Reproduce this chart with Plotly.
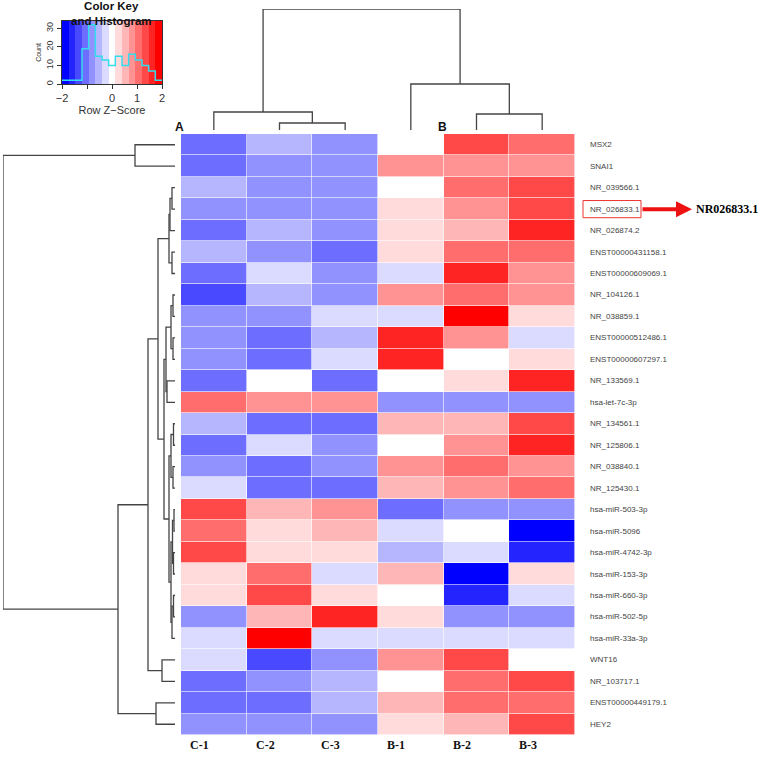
import numpy as np
import plotly.graph_objects as go

samples = ['C-1', 'C-2', 'C-3', 'B-1', 'B-2', 'B-3']
genes = ['MSX2', 'SNAI1', 'NR_039566.1', 'NR_026833.1', 'NR_026874.2',
         'ENST00000431158.1', 'ENST00000609069.1', 'NR_104126.1', 'NR_038859.1',
         'ENST00000512486.1', 'ENST00000607297.1', 'NR_133569.1', 'hsa-let-7c-3p',
         'NR_134561.1', 'NR_125806.1', 'NR_038840.1', 'NR_125430.1',
         'hsa-miR-503-3p', 'hsa-miR-5096', 'hsa-miR-4742-3p', 'hsa-miR-153-3p',
         'hsa-miR-660-3p', 'hsa-miR-502-5p', 'hsa-miR-33a-3p', 'WNT16',
         'NR_103717.1', 'ENST00000449179.1', 'HEY2']

# colour bin of each cell (-7 = deep blue ... 0 = white ... 7 = deep red)
levels = [
    [-4, -2, -3, 0, 5, 4],
    [-4, -3, -3, 3, 3, 3],
    [-2, -3, -3, 0, 4, 5],
    [-3, -3, -3, 1, 3, 5],
    [-4, -2, -3, 1, 2, 6],
    [-2, -3, -4, 1, 4, 4],
    [-4, -1, -3, -1, 6, 3],
    [-5, -2, -3, 3, 4, 3],
    [-3, -3, -1, -1, 7, 1],
    [-3, -4, -2, 6, 3, -1],
    [-3, -4, -1, 6, 0, 1],
    [-4, 0, -4, 0, 1, 6],
    [4, 3, 3, -3, -3, -3],
    [-2, -4, -4, 2, 2, 5],
    [-4, -1, -3, 0, 3, 6],
    [-3, -4, -3, 3, 4, 3],
    [-1, -4, -4, 2, 3, 4],
    [5, 2, 3, -4, -3, -3],
    [4, 1, 2, -1, 0, -7],
    [5, 1, 1, -2, -1, -6],
    [1, 4, -1, 2, -7, 1],
    [1, 5, 1, 0, -6, -1],
    [-3, 2, 6, 1, -3, -3],
    [-1, 7, -1, -1, -1, -1],
    [-1, -5, -3, 3, 5, 0],
    [-4, -3, -2, 0, 4, 5],
    [-4, -4, -2, 2, 4, 4],
    [-3, -3, -3, 1, 2, 5],
]

# histogram counts in the colour key (15 bins from -2 to 2)
hist_counts = [2, 2, 2, 19, 32, 15, 13, 10, 15, 10, 16, 13, 10, 7, 2]

# dendrogram merges: [left, right, height]; ids >= n are earlier merges
col_merges = [[1, 2, 7], [0, 6, 18], [4, 5, 16], [3, 8, 46], [7, 9, 121]]
row_merges = [
    [0, 1, 40], [2, 3, 3], [29, 4, 5], [5, 6, 3], [30, 31, 6],
    [7, 8, 2], [9, 10, 2], [33, 34, 4], [11, 12, 8], [35, 36, 9],
    [13, 14, 1.5], [15, 16, 2], [38, 39, 4], [17, 18, 1], [19, 20, 1.5],
    [41, 42, 2.5], [21, 22, 1.5], [44, 23, 3], [43, 45, 4], [40, 46, 6],
    [37, 47, 11], [32, 48, 17], [24, 25, 13], [49, 50, 27], [26, 27, 19],
    [51, 52, 57], [28, 53, 172],
]
highlight = 'NR_026833.1'
highlight_label = 'NR026833.1'

W, H = 760, 757


def px_x(p):
    return p / W


def px_y(p):
    return 1 - p / H


def level_color(k):
    if k < 0:
        v = round(255 * (1 + k / 7))
        return f'rgb({v},{v},255)'
    v = round(255 * (1 - k / 7))
    return f'rgb(255,{v},{v})'


colorscale = []
for i, k in enumerate(range(-7, 8)):
    c = level_color(k)
    colorscale += [[i / 15, c], [(i + 1) / 15, c]]


def dendro_lines(merges, n):
    pos = {i: float(i) for i in range(n)}
    hgt = {i: 0.0 for i in range(n)}
    hs, ps = [], []
    for k, (a, b, h) in enumerate(merges):
        hs += [hgt[a], h, h, hgt[b], None]
        ps += [pos[a], pos[a], pos[b], pos[b], None]
        pos[n + k] = (pos[a] + pos[b]) / 2
        hgt[n + k] = h
    return hs, ps


fig = go.Figure()

# main heatmap
fig.add_trace(go.Heatmap(
    z=levels, x=list(range(len(samples))), y=list(range(len(genes))),
    colorscale=colorscale, zmin=-7.5, zmax=7.5, showscale=False,
    xgap=0.6, ygap=0.6, xaxis='x', yaxis='y'
))

# row dendrogram
rh, rp = dendro_lines(row_merges, len(genes))
fig.add_trace(go.Scatter(
    x=rh, y=rp, mode='lines', line=dict(color='#444444', width=1.3),
    xaxis='x2', yaxis='y', hoverinfo='skip', showlegend=False
))

# column dendrogram
ch, cp = dendro_lines(col_merges, len(samples))
fig.add_trace(go.Scatter(
    x=cp, y=ch, mode='lines', line=dict(color='#444444', width=1.3),
    xaxis='x', yaxis='y3', hoverinfo='skip', showlegend=False
))

# colour key with histogram
edges = np.linspace(-2, 2, len(hist_counts) + 1)
fig.add_trace(go.Heatmap(
    z=[list(range(-7, 8))], x=edges, y=[0, 34],
    colorscale=colorscale, zmin=-7.5, zmax=7.5, showscale=False,
    xaxis='x4', yaxis='y4', hoverinfo='skip'
))
fig.add_trace(go.Scatter(
    x=edges, y=hist_counts + [hist_counts[-1]], mode='lines',
    line=dict(color='#33DDEE', width=1.5, shape='hv'),
    xaxis='x4', yaxis='y4', hoverinfo='skip', showlegend=False
))

hidden = dict(visible=False, showgrid=False, zeroline=False, automargin=False)
fig.update_layout(
    width=W, height=H,
    margin=dict(l=0, r=0, t=0, b=0, autoexpand=False),
    paper_bgcolor='white', plot_bgcolor='white',
    showlegend=False,
    xaxis=dict(domain=[px_x(181), px_x(575)], range=[-0.5, 5.5], anchor='y', **hidden),
    yaxis=dict(domain=[px_y(735), px_y(134)], range=[27.5, -0.5], anchor='x', **hidden),
    xaxis2=dict(domain=[px_x(3), px_x(175)], range=[172, 0], anchor='y', **hidden),
    yaxis3=dict(domain=[px_y(130), px_y(9)], range=[0, 121], anchor='x', **hidden),
    xaxis4=dict(domain=[px_x(62), px_x(162)], range=[-2, 2], anchor='y4', automargin=False,
                tickvals=[-2, -1, 0, 1, 2], ticktext=['\u22122', '', '0', '1', '2'],
                ticks='outside', ticklen=4, tickcolor='#333',
                showline=True, linecolor='#333', mirror=True,
                showgrid=False, zeroline=False,
                tickfont=dict(family='Liberation Sans', size=11, color='#333'),
                title=dict(text='Row Z\u2212Score', standoff=2,
                           font=dict(family='Liberation Sans', size=11, color='#333'))),
    yaxis4=dict(domain=[px_y(84), px_y(21)], range=[0, 34], anchor='x4', automargin=False,
                tickvals=[0, 10, 20, 30], tickangle=-90,
                ticks='outside', ticklen=4, tickcolor='#333',
                showline=True, linecolor='#333', mirror=True,
                showgrid=False, zeroline=False,
                tickfont=dict(family='Liberation Sans', size=9, color='#333'),
                title=dict(text='Count', standoff=2,
                           font=dict(family='Liberation Sans', size=7, color='#333'))),
)

annotations = []
# key title
annotations.append(dict(text='<b>Color Key</b><br><b>and Histogram</b>', x=px_x(112), y=px_y(13),
                        xref='paper', yref='paper', xanchor='center', yanchor='middle',
                        showarrow=False,
                        font=dict(family='Liberation Sans', size=11.5, color='#111')))

# row labels
for i, g in enumerate(genes):
    annotations.append(dict(text=g, x=px_x(588), y=i, xref='paper', yref='y',
                            xanchor='left', yanchor='middle', showarrow=False,
                            font=dict(family='Liberation Sans', size=8, color='#444')))

# column labels
for j, s in enumerate(samples):
    annotations.append(dict(text=f'<b>{s}</b>', x=j - 0.22, y=px_y(745), xref='x', yref='paper',
                            xanchor='center', yanchor='middle', showarrow=False,
                            font=dict(family='Liberation Serif', size=12, color='#111')))

# group letters
annotations.append(dict(text='<b>A</b>', x=px_x(179), y=px_y(127), xref='paper', yref='paper',
                        xanchor='center', yanchor='middle', showarrow=False,
                        font=dict(family='Liberation Sans', size=12, color='#111')))
annotations.append(dict(text='<b>B</b>', x=px_x(442), y=px_y(127), xref='paper', yref='paper',
                        xanchor='center', yanchor='middle', showarrow=False,
                        font=dict(family='Liberation Sans', size=12, color='#111')))

# highlight arrow and label
hi = genes.index(highlight)
annotations.append(dict(text='', x=px_x(692), y=hi, xref='paper', yref='y',
                        ax=-51, ay=0, showarrow=True, arrowhead=2, arrowsize=0.8,
                        arrowwidth=4, arrowcolor='#EE1111'))
annotations.append(dict(text=f'<b>{highlight_label}</b>', x=px_x(694), y=hi, xref='paper', yref='y',
                        xanchor='left', yanchor='middle', showarrow=False,
                        font=dict(family='Liberation Serif', size=12, color='#000')))
fig.update_layout(annotations=annotations)

fig.add_shape(type='rect', xref='paper', yref='y', x0=px_x(583), x1=px_x(641),
              y0=hi - 0.4, y1=hi + 0.4, line=dict(color='#EE3333', width=1))

fig.write_html('out.html', config={'displayModeBar': False},
               post_script="document.body.style.margin='0';")
